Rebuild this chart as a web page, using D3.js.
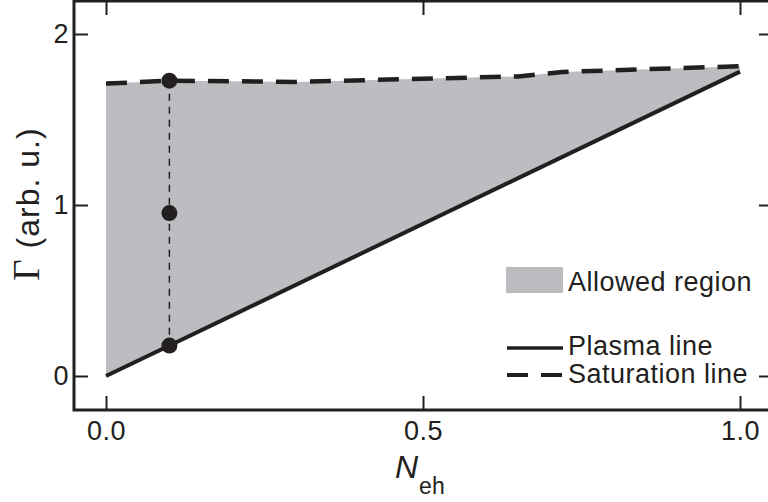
<!DOCTYPE html>
<html><head><meta charset="utf-8">
<script src="https://cdn.jsdelivr.net/npm/d3@7"></script>
<style>body{margin:0;background:#fff}svg{display:block}text{font-family:"Liberation Sans",Arial,sans-serif;fill:#231f20}</style>
</head><body><svg id="c" width="768" height="502"></svg>
<script>
const xTicks=[0,0.5,1.0];
const yTicks=[0,1,2];
const plasmaN=[0,1.0];
const plasmaG=[0,1.78];
const satN=[0,0.1,0.3,0.65,0.72,1.0];
const satG=[1.71,1.727,1.72,1.752,1.778,1.812];
const dotN=[0.1,0.1,0.1];
const dotG=[1.727,0.953,0.178];
const legendLabels=["Allowed region","Plasma line","Saturation line"];
const ink="#231f20", fillC="#bcbdc0";

const svg=d3.select("#c");
const x=d3.scaleLinear().domain([0,1]).range([106,740]);
const y=d3.scaleLinear().domain([0,2]).range([376,34]);
const L=74,R=771,T=1,B=410;

const plasma=plasmaN.map((n,i)=>({n,g:plasmaG[i]}));
const sat=satN.map((n,i)=>({n,g:satG[i]}));
const plasmaAt=n=>plasmaG[0]+(plasmaG[1]-plasmaG[0])*(n-plasmaN[0])/(plasmaN[1]-plasmaN[0]);

// allowed region
const area=d3.area().x(d=>x(d.n)).y0(d=>y(plasmaAt(d.n))).y1(d=>y(d.g));
svg.append("path").datum(sat).attr("d",area).attr("fill",fillC);

// vertical dashed
svg.append("line").attr("x1",x(dotN[0])).attr("x2",x(dotN[0])).attr("y1",y(dotG[0])).attr("y2",y(dotG[2]))
 .attr("stroke",ink).attr("stroke-width",1.5).attr("stroke-dasharray","7,6");

const line=d3.line().x(d=>x(d.n)).y(d=>y(d.g));
svg.append("path").datum(plasma).attr("d",line).attr("fill","none").attr("stroke",ink).attr("stroke-width",4);
svg.append("path").datum(sat).attr("d",line).attr("fill","none").attr("stroke",ink).attr("stroke-width",4.5).attr("stroke-dasharray","21,13");

svg.selectAll("circle.d").data(dotN).enter().append("circle").attr("cx",d=>x(d)).attr("cy",(d,i)=>y(dotG[i])).attr("r",8).attr("fill",ink);

// frame
svg.append("rect").attr("x",L).attr("y",T).attr("width",R-L).attr("height",B-T).attr("fill","none").attr("stroke",ink).attr("stroke-width",3);

// axes
const xb=svg.append("g").attr("transform",`translate(0,${B})`).call(d3.axisBottom(x).tickValues(xTicks).tickSize(-14).tickPadding(21).tickFormat(d3.format(".1f")));
const xt=svg.append("g").attr("transform",`translate(0,${T})`).call(d3.axisTop(x).tickValues(xTicks).tickSize(-14).tickFormat(""));
const yl=svg.append("g").attr("transform",`translate(${L},0)`).call(d3.axisLeft(y).tickValues(yTicks).tickSize(-14).tickPadding(5).tickFormat(d3.format("d")));
const yr=svg.append("g").attr("transform",`translate(${R},0)`).call(d3.axisRight(y).tickValues(yTicks).tickSize(-12).tickFormat(""));
[xb,xt,yl,yr].forEach(g=>{g.select(".domain").remove();g.selectAll(".tick line").attr("stroke",ink).attr("stroke-width",2);
 g.selectAll("text").attr("font-size",27).attr("letter-spacing","0.5px").attr("fill",ink).attr("font-family","Liberation Sans, Arial, sans-serif");});
xb.selectAll("text").attr("dy","0.35em");

// axis titles
const xl=svg.append("text").attr("x",395).attr("y",478).attr("font-size",32);
xl.append("tspan").attr("font-style","italic").text("N");
xl.append("tspan").attr("font-size",23).attr("dy",16).attr("dx",1).text("eh");
const ylab=svg.append("text").attr("transform","translate(39,204) rotate(-90)").attr("text-anchor","middle").attr("font-size",32).attr("letter-spacing","1px");
ylab.append("tspan").attr("font-family","Liberation Serif, Times New Roman, serif").attr("font-size",37).text("Γ");
ylab.append("tspan").text(" (arb. u.)");

// legend
svg.append("rect").attr("x",506).attr("y",267).attr("width",57).attr("height",26).attr("fill",fillC);
svg.append("line").attr("x1",507).attr("x2",563).attr("y1",348).attr("y2",348).attr("stroke",ink).attr("stroke-width",3.5);
svg.append("line").attr("x1",507).attr("x2",563).attr("y1",375).attr("y2",375).attr("stroke",ink).attr("stroke-width",4).attr("stroke-dasharray","21,13");
const ly=[291,355,383];
svg.selectAll("text.lg").data(legendLabels).enter().append("text").attr("class","lg").attr("x",568).attr("y",(d,i)=>ly[i]).attr("font-size",27).attr("letter-spacing","0.5px").text(d=>d);
</script></body></html>
